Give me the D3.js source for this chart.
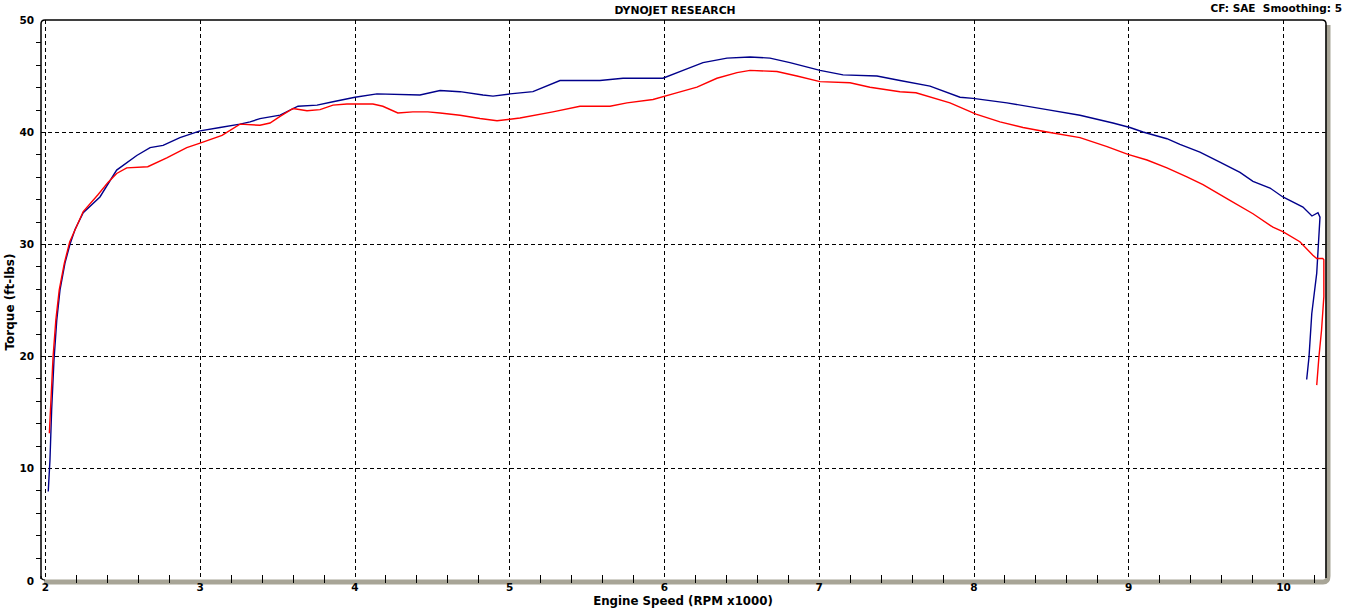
<!DOCTYPE html>
<html><head><meta charset="utf-8">
<script src="https://cdn.jsdelivr.net/npm/d3@7"></script>
<style>
html,body{margin:0;padding:0;background:#fff;}
svg{display:block;}
text{font-family:"DejaVu Sans",Verdana,sans-serif;font-weight:bold;fill:#000;white-space:pre;}
</style></head>
<body>
<svg id="chart" width="1351" height="612"></svg>
<script>
// ---- data ----
const title = "DYNOJET RESEARCH";
const subtitle = "CF: SAE  Smoothing: 5";
const xLabel = "Engine Speed (RPM x1000)";
const yLabel = "Torque (ft-lbs)";
const xTicks = [2, 3, 4, 5, 6, 7, 8, 9, 10];
const yTicks = [0, 10, 20, 30, 40, 50];

const blueRpm = [2.021,2.032,2.043,2.058,2.076,2.097,2.129,2.162,2.194,2.247,2.355,2.463,2.593,2.679,2.763,2.872,3.002,3.131,3.260,3.325,3.389,3.519,3.635,3.758,3.861,4.003,4.145,4.423,4.553,4.682,4.830,4.895,5.005,5.153,5.328,5.586,5.735,5.993,6.123,6.252,6.407,6.556,6.685,6.814,7.008,7.157,7.376,7.525,7.719,7.913,7.997,8.216,8.475,8.688,8.901,9.011,9.095,9.250,9.334,9.463,9.592,9.722,9.806,9.916,9.999,10.129,10.187,10.226,10.239,10.218,10.186,10.168,10.153];
const blueTq  = [7.9,10.7,15.2,19.6,23.2,25.9,28.3,30.0,31.3,32.8,34.2,36.6,37.9,38.6,38.8,39.5,40.1,40.4,40.7,40.9,41.2,41.5,42.3,42.4,42.7,43.1,43.4,43.3,43.7,43.6,43.3,43.2,43.4,43.6,44.6,44.6,44.8,44.8,45.5,46.2,46.6,46.7,46.6,46.2,45.5,45.1,45.0,44.6,44.1,43.1,43.0,42.6,42.0,41.5,40.8,40.4,40.0,39.4,38.9,38.2,37.3,36.4,35.6,35.0,34.2,33.3,32.5,32.8,32.4,27.4,23.8,19.9,17.9];

const redRpm = [2.028,2.040,2.052,2.070,2.092,2.125,2.160,2.247,2.342,2.407,2.463,2.528,2.664,2.787,2.916,3.002,3.144,3.260,3.389,3.454,3.519,3.603,3.693,3.777,3.861,3.951,4.119,4.183,4.280,4.377,4.474,4.553,4.682,4.811,4.921,5.069,5.282,5.457,5.651,5.761,5.929,6.058,6.213,6.342,6.472,6.556,6.730,6.859,7.008,7.202,7.331,7.525,7.628,7.848,8.016,8.171,8.320,8.475,8.688,8.863,8.998,9.121,9.250,9.379,9.483,9.657,9.806,9.935,9.999,10.109,10.193,10.218,10.257,10.264,10.264,10.249,10.232,10.218];
const redTq  = [13.1,16.5,19.9,23.2,25.9,28.3,30.2,32.9,34.4,35.5,36.3,36.8,36.9,37.7,38.6,39.0,39.7,40.7,40.6,40.8,41.4,42.1,41.9,42.0,42.4,42.5,42.5,42.3,41.7,41.8,41.8,41.7,41.5,41.2,41.0,41.25,41.8,42.3,42.3,42.6,42.9,43.4,44.0,44.8,45.3,45.5,45.4,45.0,44.5,44.4,44.0,43.6,43.5,42.6,41.6,40.9,40.4,40.0,39.5,38.7,38.0,37.5,36.8,36.0,35.3,33.9,32.7,31.5,31.1,30.2,29.0,28.7,28.7,28.6,25.3,22.3,19.9,17.4];

// ---- layout ----
const svg = d3.select("#chart");
const L = 41, R = 1326, T = 20, B = 580;
const x = d3.scaleLinear().domain([2, 10]).range([45, 1283]);
const y = d3.scaleLinear().domain([0, 50]).range([B, T]);

// grid
const g = svg.append("g");
g.selectAll(".vg").data(xTicks).join("line")
  .attr("x1", d => Math.round(x(d)) + 0.5).attr("x2", d => Math.round(x(d)) + 0.5)
  .attr("y1", T).attr("y2", B)
  .attr("stroke", "#000").attr("stroke-width", 1).attr("stroke-dasharray", "4,3");
g.selectAll(".hg").data(yTicks.filter(d => d > 0 && d < 50)).join("line")
  .attr("x1", L).attr("x2", R)
  .attr("y1", d => Math.round(y(d)) + 0.5).attr("y2", d => Math.round(y(d)) + 0.5)
  .attr("stroke", "#000").attr("stroke-width", 1).attr("stroke-dasharray", "4,3");

// frame: gray bottom/right with rounded corner
const gray = "#a8a597";
svg.append("path")
  .attr("d", `M${L+3},${B+2} L${R-3},${B+2} Q${R+2},${B+2} ${R+2},${B-4} L${R+2},${T+5}`)
  .attr("fill", "none").attr("stroke", gray).attr("stroke-width", 5);
// black top/left with rounded corner
svg.append("path")
  .attr("d", `M${L},${B-1} L${L},${T+4} Q${L},${T} ${L+4},${T} L${R-4},${T} Q${R},${T} ${R},${T+4} L${R},${B-2}`)
  .attr("fill", "none").attr("stroke", "#000").attr("stroke-width", 1.5);
svg.append("path")
  .attr("d", `M${L},${B-4} Q${L},${B} ${L+4},${B}`)
  .attr("fill", "none").attr("stroke", "#000").attr("stroke-width", 1.2);

// minor ticks
const xMinor = d3.range(2, 10.3, 0.2).filter(v => Math.abs(v - Math.round(v)) > 0.01);
svg.selectAll(".xt").data(xMinor).join("line")
  .attr("x1", d => Math.round(x(d)) + 0.5).attr("x2", d => Math.round(x(d)) + 0.5)
  .attr("y1", B - 5).attr("y2", B + 3).attr("stroke", "#000").attr("stroke-width", 1);
const yMinor = d3.range(2, 50, 2).filter(v => v % 10 !== 0);
svg.selectAll(".yt").data(yMinor).join("line")
  .attr("x1", L - 5).attr("x2", L)
  .attr("y1", d => Math.round(y(d)) + 0.5).attr("y2", d => Math.round(y(d)) + 0.5)
  .attr("stroke", "#000").attr("stroke-width", 1);

// tick labels
svg.selectAll(".yl").data(yTicks).join("text")
  .attr("x", 34).attr("y", d => y(d) + (d === 0 ? 1 : 0)).attr("dy", "0.36em")
  .attr("text-anchor", "end").attr("font-size", 10.5).text(d => d);
svg.selectAll(".xl").data(xTicks).join("text")
  .attr("x", d => x(d) + 0.5).attr("y", 587).attr("dy", "0.36em")
  .attr("text-anchor", "middle").attr("font-size", 10.5).text(d => d);

// titles
svg.append("text").attr("x", 675).attr("y", 10).attr("dy", "0.36em")
  .attr("text-anchor", "middle").attr("font-size", 10.8).text(title);
svg.append("text").attr("x", 1342).attr("y", 8).attr("dy", "0.36em")
  .attr("text-anchor", "end").attr("font-size", 10.5).text(subtitle);
svg.append("text").attr("x", 683).attr("y", 601).attr("dy", "0.36em")
  .attr("text-anchor", "middle").attr("font-size", 11.8).text(xLabel);
svg.append("text").attr("transform", "translate(10,302) rotate(-90)").attr("dy", "0.36em")
  .attr("text-anchor", "middle").attr("font-size", 12).text(yLabel);

// curves
const line = d3.line().x(d => x(d[0])).y(d => y(d[1]));
svg.append("path").datum(d3.zip(blueRpm, blueTq)).attr("d", line)
  .attr("fill", "none").attr("stroke", "#00008b").attr("stroke-width", 1.4);
svg.append("path").datum(d3.zip(redRpm, redTq)).attr("d", line)
  .attr("fill", "none").attr("stroke", "#ff0000").attr("stroke-width", 1.4);
</script>
</body></html>
